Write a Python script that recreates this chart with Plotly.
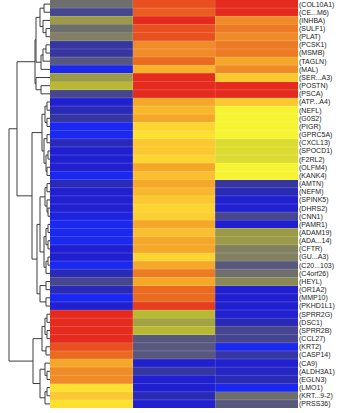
import plotly.graph_objects as go

genes = ["COL10A1", "CE...M6", "INHBA", "SULF1", "PLAT", "PCSK1", "MSMB", "TAGLN", "MAL",
         "SER...A3", "POSTN", "PSCA", "ATP...A4", "NEFL", "G0S2", "PIGR", "GPRC5A", "CXCL13",
         "SPOCD1", "F2RL2", "OLFM4", "KANK4", "AMTN", "NEFM", "SPINK5", "DHRS2", "CNN1",
         "PAMR1", "ADAM19", "ADA...14", "CFTR", "GU...A3", "C20...103", "C4orf26", "HEYL",
         "OR1A2", "MMP10", "PKHD1L1", "SPRR2G", "DSC1", "SPRR2B", "CCL27", "KRT2", "CASP14",
         "CA9", "ALDH3A1", "EGLN3", "LMO1", "KRT...9-2)", "PRSS36"]
labels = ["(" + g + ")" if not g.endswith(")") else "(" + g for g in genes]

sample1 = [6, 4, 8, 6, 7, 3, 3, 5, 0, 8, 9, 4, 1, 2, 3, 0, 0, 2, 1, 1, 1, 0, 2, 1, 1, 1, 0.5,
           0, 0, 0, 1, 1, 0, 2, 4, 2, 0, 1, 18, 18, 18, 18, 17, 16, 14, 15, 15, 12, 13, 12]
sample2 = [17, 16.5, 18, 17, 17, 15, 15, 16, 13.7, 18, 18, 18, 14, 13.5, 14, 12.5, 12, 13,
           13, 12.5, 14, 13.3, 14, 13.5, 13, 12.5, 12.7, 14, 13.3, 14, 14, 12.5, 14, 15.5,
           14, 16, 16, 17.5, 9, 8.3, 9, 5, 5, 5, 1, 3, 1, 1, 2, 1]
sample3 = [18, 18, 15, 15.5, 15, 15.5, 15.5, 14, 15, 13, 18, 18, 13, 11, 11, 11, 11, 10,
           10, 10, 11, 11, 3, 2, 1, 1, 4, 1, 8, 8, 7, 7, 5, 6, 7.3, 1, 1, 1, 1, 2, 4, 4,
           0, 3, 1, 1.5, 2, 0, 6, 5]

level_colors = ["#1a28f0", "#2020d0", "#2a2ab8", "#3636a2", "#454590", "#58587e", "#6e6e6c",
                "#828060", "#9a9a48", "#b8b832", "#dcdc30", "#f6f432", "#fde030", "#fcc830",
                "#f5a828", "#f08c28", "#ea6a20", "#e85020", "#e52a1e"]

# dendrogram: (merge height, left, right); leaves are row indices
c1_9 = (14, (10, (6, 0, 1), (7, 2, (4, 3, 4))), (9, (7, (4, 5, 6), 7), 8))
c10_12 = (14, 9, (9, 10, 11))
c1_12 = (15, c1_9, c10_12)
c13_22 = (8, (5, (3, 12, 13), (3, 14, 15)), (6, (3, 16, 17), (4, (2, 18, 19), (3, 20, 21))))
c23_34 = (10, (5, (3, 22, 23), (3, 24, (2, 25, 26))),
          (6, (4, (2, 27, 28), (2, 29, 30)), (4, (2, 31, 32), 33)))
c35_38 = (10, (4, 34, 35), (4, 36, 37))
c23_38 = (13, c23_34, c35_38)
c13_38 = (18, c13_22, c23_38)
clusterA = (33, c1_12, c13_38)
c39_44 = (8, (5, (3, 38, 39), (3, 40, 41)), (4, 42, 43))
c45_50 = (10, (5, 44, (3, 45, 46)), (5, (3, 47, 48), 49))
clusterB = (17, c39_44, c45_50)
tree = (41, clusterA, clusterB)

lx, ly = [], []


def walk(node):
    if isinstance(node, int):
        return 0.0, float(node)
    h, a, b = node
    ha, ya = walk(a)
    hb, yb = walk(b)
    lx.extend([ha, h, h, hb, None])
    ly.extend([ya, ya, yb, yb, None])
    return h, (ya + yb) / 2


walk(tree)

n = len(genes)
cols = [0, 1, 2]
z = [[sample1[i], sample2[i], sample3[i]] for i in range(n)]
nl = len(level_colors) - 1
cscale = [[k / nl, c] for k, c in enumerate(level_colors)]

fig = go.Figure()
fig.add_trace(go.Heatmap(z=z, x=cols, y=list(range(n)), colorscale=cscale, zmin=0, zmax=nl,
                         showscale=False, hoverinfo="skip", xaxis="x", yaxis="y"))
fig.add_trace(go.Scatter(x=lx, y=ly, mode="lines", line=dict(color="#3c3c3c", width=1),
                         hoverinfo="skip", showlegend=False, xaxis="x2", yaxis="y"))

shapes = []
for i in range(1, n):
    shapes.append(dict(type="line", xref="x", yref="y", x0=-0.5, x1=2.5, y0=i - 0.5, y1=i - 0.5,
                       line=dict(color="rgba(255,255,255,0.18)", width=1)))
for j in range(1, len(cols)):
    shapes.append(dict(type="line", xref="x", yref="y", x0=j - 0.5, x1=j - 0.5, y0=-0.5, y1=n - 0.5,
                       line=dict(color="rgba(255,255,255,0.15)", width=1)))

W, H = 339, 413
fig.update_layout(
    width=W, height=H, margin=dict(l=0, r=0, t=0, b=0),
    paper_bgcolor="white", plot_bgcolor="white", showlegend=False,
    xaxis=dict(domain=[50 / W, 298 / W], range=[-0.5, 2.5], visible=False),
    xaxis2=dict(domain=[0, 50 / W], range=[50, 0], visible=False, anchor="y"),
    yaxis=dict(domain=[1 - 408 / H, 1], range=[n - 0.5, -0.5], side="right", anchor="x",
               tickmode="array", tickvals=list(range(n)), ticktext=labels, ticks="",
               showgrid=False, zeroline=False, showline=False,
               tickfont=dict(family="Liberation Sans, Arial", size=7, color="#222")),
    shapes=shapes,
)
fig.write_html("out.html")
